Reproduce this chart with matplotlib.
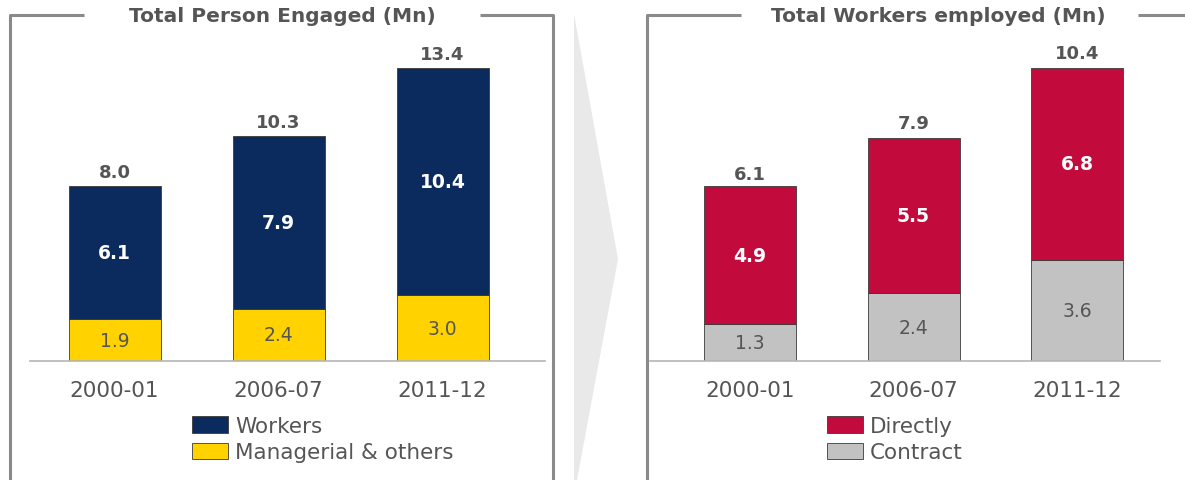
import matplotlib
matplotlib.use("Agg")
import matplotlib.pyplot as plt
from matplotlib.lines import Line2D
from matplotlib.patches import Polygon, Patch

plt.rcParams['font.family'] = ['DejaVu Sans']

years = ['2000-01', '2006-07', '2011-12']

# left panel: total person engaged (Mn)
managerial = [1.9, 2.4, 3.0]
workers = [6.1, 7.9, 10.4]
persons_total = [8.0, 10.3, 13.4]

# right panel: total workers employed (Mn)
contract = [1.3, 2.4, 3.6]
directly = [4.9, 5.5, 6.8]
workers_total = [6.1, 7.9, 10.4]

NAVY = '#0b2a5e'
YELLOW = '#ffd200'
RED = '#c20b3c'
GREY = '#c2c2c2'
FRAME = '#8a8a8a'
TXT = '#555555'

W, H = 1185, 481
fig = plt.figure(figsize=(W / 100, H / 100), dpi=100)


def fx(x):
    return x / W


def fy(y):
    return 1 - y / H


def line(xs, ys):
    fig.add_artist(Line2D([fx(x) for x in xs], [fy(y) for y in ys],
                          color=FRAME, lw=2.2, transform=fig.transFigure,
                          solid_capstyle='butt'))


# panel frames
line([84, 10, 10], [16, 16, 481])
line([480, 553, 553], [16, 16, 481])
line([741, 647, 647], [16, 16, 481])
line([1138, 1185], [16, 16])
fig.text(fx(282), fy(17), 'Total Person Engaged (Mn)', ha='center', va='center',
         fontsize=14.5, fontweight='bold', color=TXT)
fig.text(fx(938), fy(17), 'Total Workers employed (Mn)', ha='center', va='center',
         fontsize=14.5, fontweight='bold', color=TXT)

# arrow between the panels
fig.add_artist(Polygon([(fx(574), fy(15)), (fx(618), fy(260)), (fx(577), fy(481)),
                        (fx(574), fy(481))], closed=True, facecolor='#e9e9e9',
                       edgecolor='none', transform=fig.transFigure))


def panel(left, right, c0, spacing, px_per_unit, bottom_vals, top_vals, totals,
          bottom_col, top_col, labels, leg_x):
    base, top = 362, 40
    ax = fig.add_axes([fx(left), fy(base), fx(right - left), (base - top) / H])
    x = list(range(len(years)))
    ax.bar(x, bottom_vals, width=92 / spacing, color=bottom_col,
           edgecolor='#3a3a3a', linewidth=0.6)
    ax.bar(x, top_vals, bottom=bottom_vals, width=92 / spacing, color=top_col,
           edgecolor='#3a3a3a', linewidth=0.6)
    for i in x:
        ax.text(i, bottom_vals[i] / 2, f'{bottom_vals[i]:.1f}', ha='center',
                va='center', fontsize=13.5, color=TXT)
        ax.text(i, bottom_vals[i] + top_vals[i] / 2, f'{top_vals[i]:.1f}',
                ha='center', va='center', fontsize=13.5, color='white',
                fontweight='bold')
        ax.text(i, totals[i] + 0.22, f'{totals[i]:.1f}', ha='center',
                va='bottom', fontsize=13, color=TXT, fontweight='bold')
    ax.set_ylim(0, (base - top) / px_per_unit)
    ax.set_xlim(-(c0 - left) / spacing, -(c0 - left) / spacing + (right - left) / spacing)
    ax.set_xticks(x)
    ax.set_xticklabels(years, fontsize=15.5, color=TXT)
    ax.tick_params(axis='x', length=0, pad=14)
    ax.set_yticks([])
    for s in ['top', 'left', 'right']:
        ax.spines[s].set_visible(False)
    ax.spines['bottom'].set_color('#b5b5b5')
    ax.spines['bottom'].set_linewidth(1.2)
    handles = [Patch(facecolor=top_col, edgecolor='#3a3a3a', linewidth=0.6),
               Patch(facecolor=bottom_col, edgecolor='#3a3a3a', linewidth=0.6)]
    fig.legend(handles, labels, loc='upper left',
               bbox_to_anchor=(fx(leg_x), fy(417)), frameon=False,
               fontsize=15.5, handlelength=1.65, handleheight=0.78,
               labelspacing=0.3, handletextpad=0.35, borderpad=0,
               borderaxespad=0, labelcolor=TXT)
    return ax


panel(30, 545, 114.5, 164, 293 / 13.4, managerial, workers, persons_total,
      YELLOW, NAVY, ['Workers', 'Managerial & others'], 192)
panel(650, 1160, 750, 163.5, 293 / 10.4, contract, directly, workers_total,
      GREY, RED, ['Directly', 'Contract'], 827)

fig.savefig('out.png', dpi=100)
